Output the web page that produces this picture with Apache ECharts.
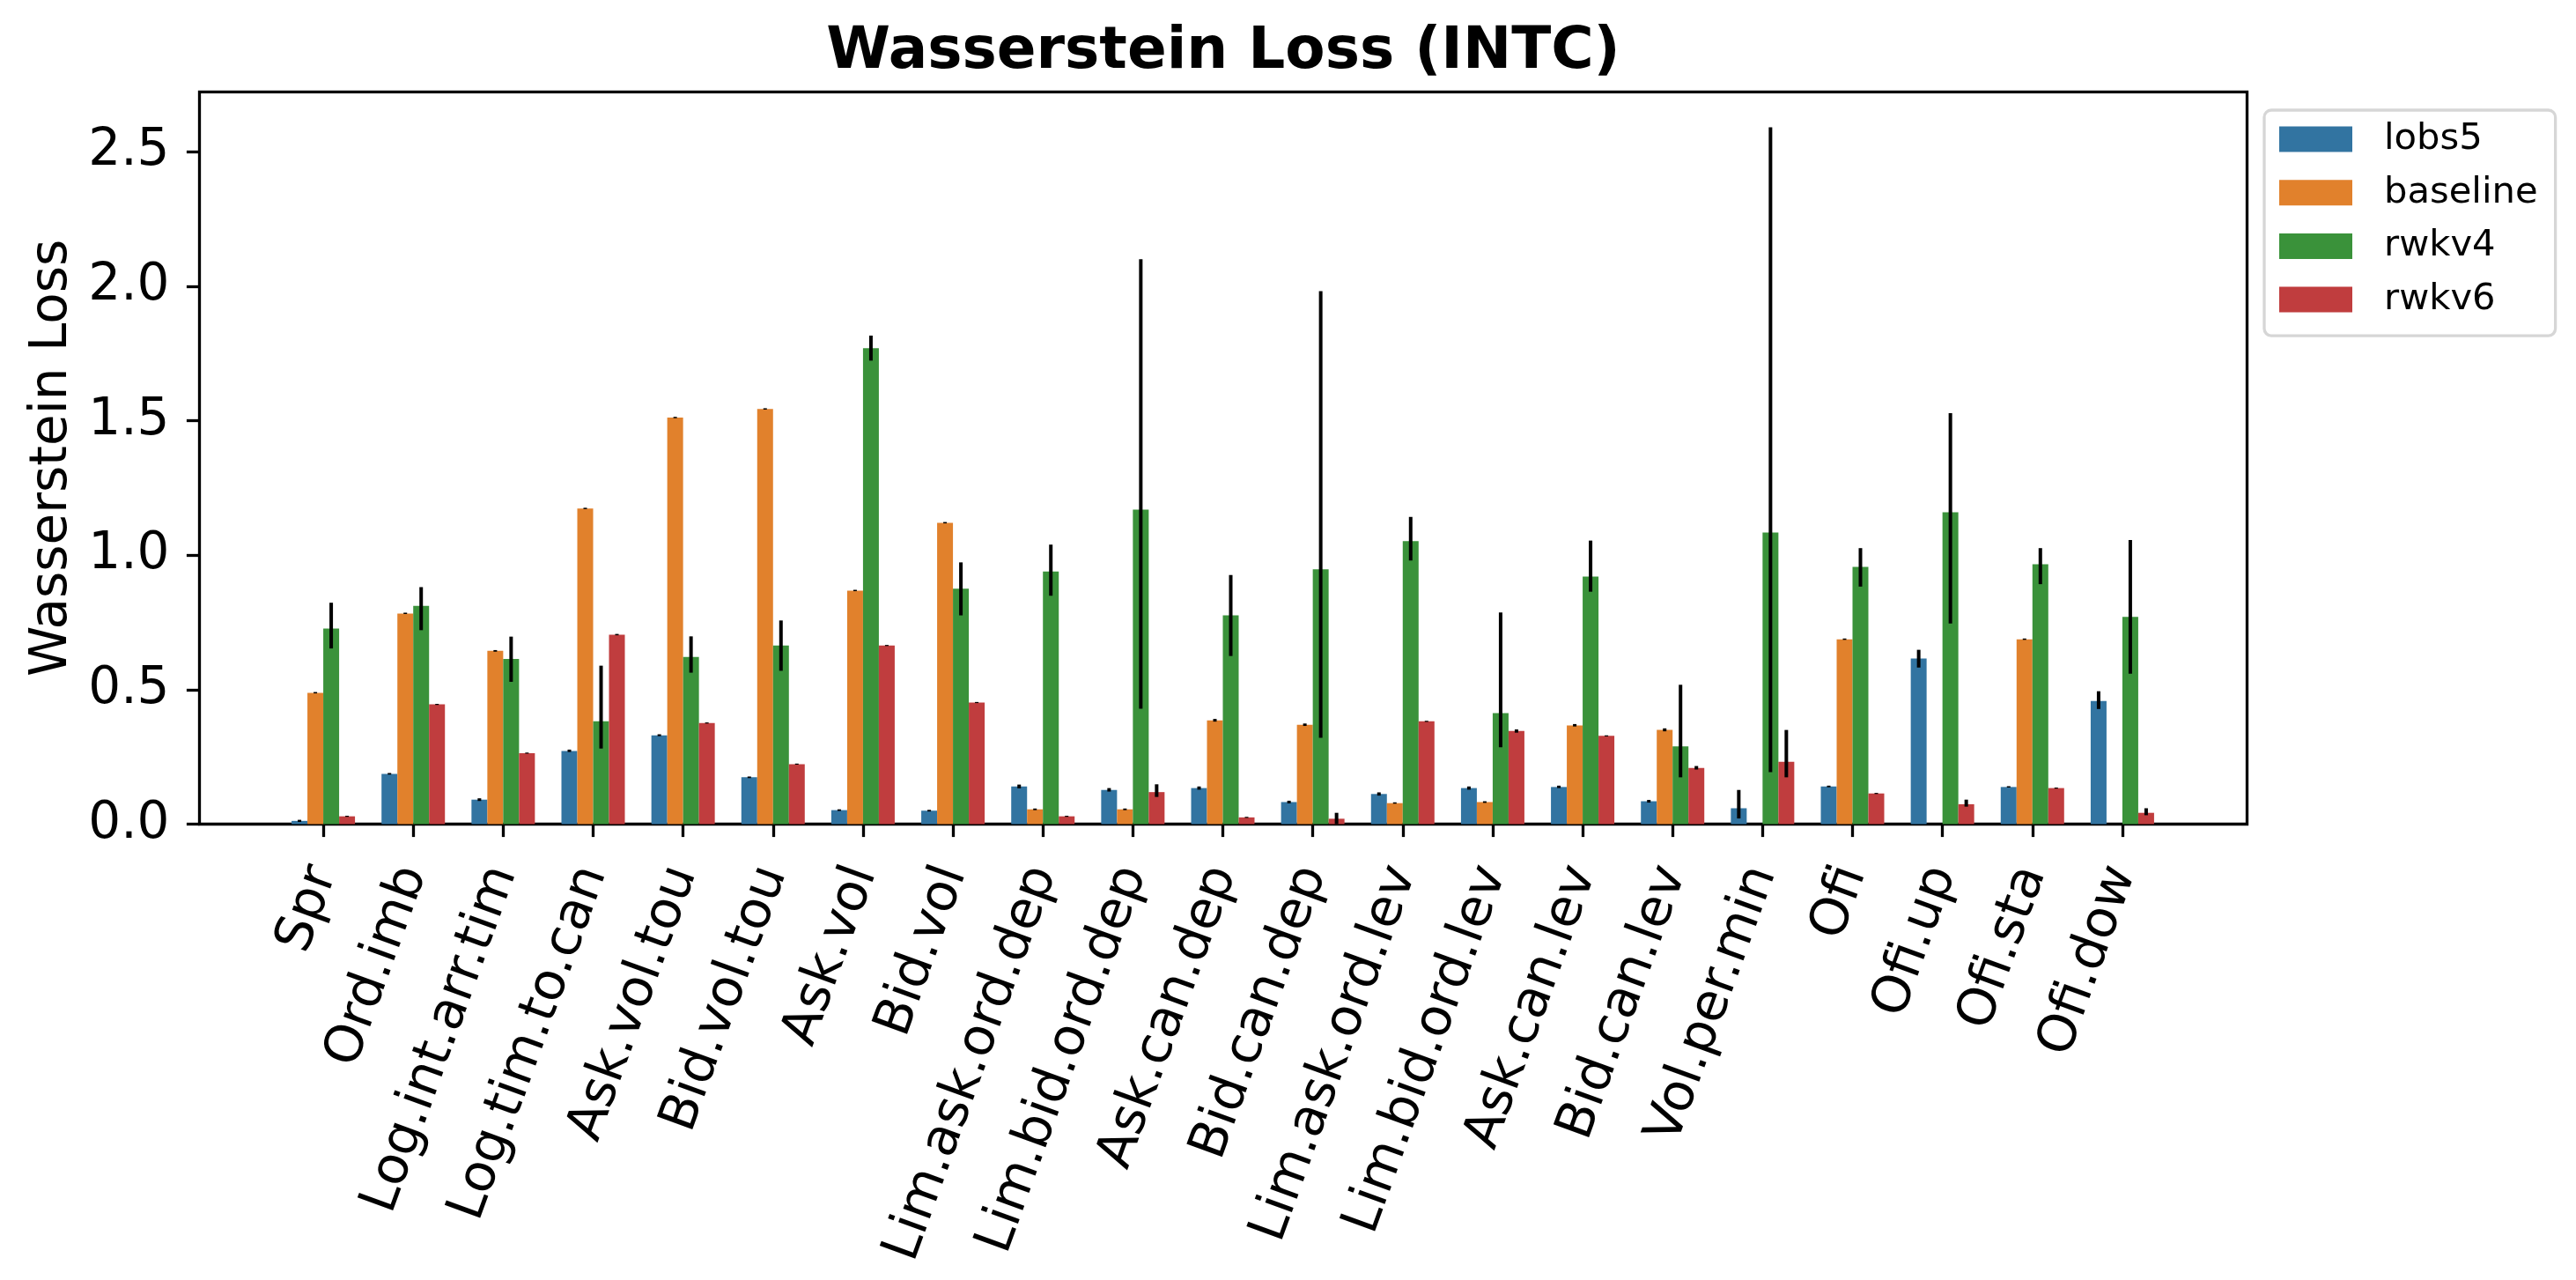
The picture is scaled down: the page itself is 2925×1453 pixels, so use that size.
<!DOCTYPE html>
<html><head><meta charset="utf-8">
<script src="https://cdn.jsdelivr.net/npm/echarts@6/dist/echarts.min.js"></script>
<style>html,body{margin:0;padding:0;background:#fff}#c{width:2925px;height:1453px}</style>
</head><body><div id="c"></div>
<script>
const categories = ['Spr','Ord.imb','Log.int.arr.tim','Log.tim.to.can','Ask.vol.tou','Bid.vol.tou','Ask.vol','Bid.vol','Lim.ask.ord.dep','Lim.bid.ord.dep','Ask.can.dep','Bid.can.dep','Lim.ask.ord.lev','Lim.bid.ord.lev','Ask.can.lev','Bid.can.lev','Vol.per.min','Ofi','Ofi.up','Ofi.sta','Ofi.dow'];
const seriesNames = ['lobs5','baseline','rwkv4','rwkv6'];
const yTicks = [0, 0.5, 1.0, 1.5, 2.0, 2.5];

const lobs5    = [0.012,0.187,0.091,0.272,0.330,0.174,0.052,0.050,0.140,0.127,0.134,0.082,0.112,0.134,0.138,0.085,0.059,0.140,0.616,0.138,0.458];
const baseline = [0.488,0.783,0.644,1.173,1.511,1.543,0.868,1.120,0.055,0.055,0.386,0.369,0.078,0.082,0.367,0.350,null,0.687,null,0.687,null];
const rwkv4    = [0.727,0.811,0.614,0.382,0.621,0.664,1.769,0.875,0.939,1.169,0.776,0.947,1.052,0.413,0.920,0.289,1.084,0.956,1.159,0.966,0.770];
const rwkv6    = [0.029,0.445,0.264,0.704,0.376,0.223,0.664,0.452,0.029,0.119,0.025,0.020,0.382,0.346,0.328,0.209,0.232,0.114,0.074,0.134,0.042];

const lobs5Lo    = [0.008,0.184,0.086,0.268,0.327,0.171,0.049,0.047,0.133,0.121,0.128,0.077,0.106,0.128,0.134,0.080,0.021,0.137,0.582,0.136,0.428];
const lobs5Hi    = [0.016,0.190,0.096,0.277,0.334,0.177,0.055,0.053,0.147,0.134,0.140,0.087,0.118,0.140,0.143,0.090,0.127,0.143,0.648,0.141,0.494];
const baselineLo = [0.486,0.781,0.641,1.171,1.509,1.541,0.866,1.118,0.052,0.052,0.381,0.365,0.076,0.079,0.363,0.345,null,0.685,null,0.685,null];
const baselineHi = [0.491,0.786,0.647,1.176,1.514,1.546,0.871,1.123,0.058,0.058,0.391,0.374,0.081,0.085,0.372,0.356,null,0.690,null,0.690,null];
const rwkv4Lo    = [0.653,0.721,0.529,0.281,0.563,0.570,1.723,0.776,0.849,0.429,0.625,0.321,0.980,0.286,0.864,0.174,0.193,0.883,0.746,0.892,0.559];
const rwkv4Hi    = [0.823,0.881,0.697,0.589,0.698,0.757,1.816,0.973,1.039,2.100,0.926,1.981,1.142,0.787,1.054,0.518,2.590,1.026,1.528,1.026,1.056];
const rwkv6Lo    = [0.027,0.443,0.262,0.702,0.374,0.221,0.662,0.450,0.027,0.101,0.023,0.000,0.380,0.340,0.326,0.203,0.174,0.112,0.065,0.132,0.033];
const rwkv6Hi    = [0.031,0.447,0.266,0.707,0.378,0.225,0.666,0.454,0.031,0.148,0.027,0.042,0.384,0.352,0.330,0.216,0.350,0.116,0.091,0.136,0.059];

const colors = ['#3274a1','#e1812c','#3a923a','#c03d3e'];
const values = [lobs5, baseline, rwkv4, rwkv6];
const los = [lobs5Lo, baselineLo, rwkv4Lo, rwkv6Lo];
const his = [lobs5Hi, baselineHi, rwkv4Hi, rwkv6Hi];

const FONT = 'DejaVu Sans';
const BAR_W = 18;
const Y_MAX = 2.722;

const errData = [];
for (let s = 0; s < 4; s++) {
  for (let i = 0; i < categories.length; i++) {
    if (los[s][i] != null && his[s][i] != null) errData.push([i, los[s][i], his[s][i], s]);
  }
}

const barSeries = seriesNames.map((n, s) => ({
  name: n, type: 'bar', xAxisIndex: 1, yAxisIndex: 1,
  data: values[s], barWidth: BAR_W, barGap: '0%',
  itemStyle: {color: colors[s]}, z: 2
}));

const chart = echarts.init(document.getElementById('c'));
chart.setOption({
  animation: false,
  backgroundColor: '#fff',
  textStyle: {fontFamily: FONT},
  title: {
    text: 'Wasserstein Loss (INTC)', left: 1389, top: 27, textAlign: 'center', padding: 0,
    textStyle: {fontFamily: FONT, fontWeight: 'bold', fontSize: 66, lineHeight: 66, color: '#000'}
  },
  legend: {
    data: seriesNames, orient: 'vertical', left: 2571, top: 125,
    padding: [12, 20, 20, 17], itemWidth: 83, itemHeight: 29, itemGap: 18.7, icon: 'rect',
    backgroundColor: '#fff', borderColor: '#d6d6d6', borderWidth: 3.3, borderRadius: 8,
    textStyle: {fontFamily: FONT, fontSize: 41.7, lineHeight: 42, color: '#000', padding: [0, 0, 0, 31]}
  },
  grid: [
    {left: 226.5, top: 104.3, width: 2325, height: 831.2, show: true, borderColor: '#000', borderWidth: 3.3, backgroundColor: 'transparent', containLabel: false},
    {left: 316, top: 104.3, width: 2145, height: 831.2, show: false, containLabel: false}
  ],
  xAxis: [
    {gridIndex: 0, type: 'value', min: 0, max: 1, show: false},
    {gridIndex: 1, type: 'category', data: categories, boundaryGap: true,
     axisLine: {show: false},
     axisTick: {show: true, alignWithLabel: true, length: 14.6, lineStyle: {color: '#000', width: 3.3}},
     axisLabel: {interval: 0, rotate: 70, fontSize: 59, fontFamily: FONT, color: '#000', margin: 50, padding: [0, 0, 78, 0]},
     splitLine: {show: false}}
  ],
  yAxis: [
    {gridIndex: 0, type: 'value', min: 0, max: Y_MAX,
     name: 'Wasserstein Loss', nameLocation: 'middle', nameGap: 137,
     nameTextStyle: {fontFamily: FONT, fontSize: 58, color: '#000'},
     axisLine: {show: false},
     axisTick: {show: true, length: 14.6, lineStyle: {color: '#000', width: 3.3}, customValues: yTicks},
     axisLabel: {fontSize: 58, fontFamily: FONT, color: '#000', margin: 34, customValues: yTicks,
                 formatter: v => v.toFixed(1)},
     splitLine: {show: false}},
    {gridIndex: 1, type: 'value', min: 0, max: Y_MAX, show: false, splitLine: {show: false}}
  ],
  series: barSeries.concat([{
    name: 'err', type: 'custom', xAxisIndex: 1, yAxisIndex: 1, z: 5,
    encode: {x: 0, y: [1, 2]},
    data: errData,
    renderItem: function (params, api) {
      const ci = api.value(0), lo = api.value(1), hi = api.value(2), si = api.value(3);
      const p1 = api.coord([ci, lo]);
      const p2 = api.coord([ci, hi]);
      const x = p1[0] + (si - 1.5) * BAR_W;
      return {type: 'line', shape: {x1: x, y1: p1[1], x2: x, y2: p2[1]},
              style: {stroke: '#000', lineWidth: 4}};
    }
  }])
});
</script></body></html>
